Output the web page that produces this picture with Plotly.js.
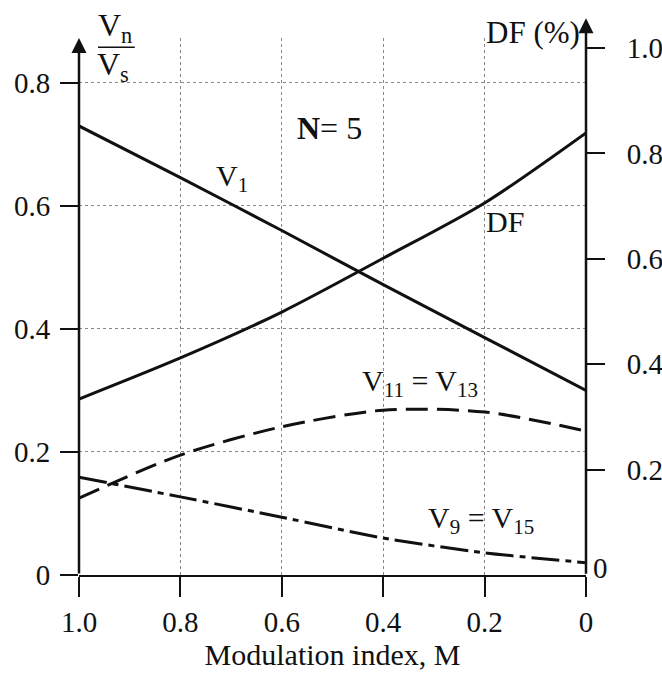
<!DOCTYPE html>
<html>
<head>
<meta charset="utf-8">
<script src="https://cdn.plot.ly/plotly-3.0.1.min.js"></script>
<style>html,body{margin:0;padding:0;background:#fff;}#chart{width:662px;height:673px;}</style>
</head>
<body>
<div id="chart"></div>
<script>
// Modulation index M (x axis, reversed: 1.0 on the left, 0 on the right)
const M = [1.0, 0.8, 0.6, 0.4, 0.2, 0.0];
// Harmonic amplitudes Vn/Vs (left axis)
const V1 = [0.730, 0.646, 0.560, 0.472, 0.386, 0.300];
const V11 = [0.125, 0.195, 0.241, 0.268, 0.265, 0.234];
const V9 = [0.159, 0.127, 0.094, 0.060, 0.036, 0.020];
// Distortion factor DF (%) (right axis)
const DF = [0.334, 0.412, 0.499, 0.601, 0.706, 0.839];

const xTicks = [1.0, 0.8, 0.6, 0.4, 0.2, 0.0];
const xTickText = ["1.0", "0.8", "0.6", "0.4", "0.2", "0"];
const yTicks = [0, 0.2, 0.4, 0.6, 0.8];
const yTickText = ["0", "0.2", "0.4", "0.6", "0.8"];
const y2Ticks = [0.2, 0.4, 0.6, 0.8, 1.0];
const y2TickText = ["0.2", "0.4", "0.6", "0.8", "1.0"];

const FONT = "Liberation Serif, Times New Roman, serif";
const INK = "#111";

const traces = [
  {x: M, y: V1, mode: "lines", line: {color: INK, width: 3, shape: "spline", smoothing: 0.6}, yaxis: "y", hoverinfo: "skip"},
  {x: M, y: DF, mode: "lines", line: {color: INK, width: 3, shape: "spline", smoothing: 0.8}, yaxis: "y2", hoverinfo: "skip"},
  {x: M, y: V11, mode: "lines", line: {color: INK, width: 3, shape: "spline", smoothing: 0.8, dash: "22px,9px"}, yaxis: "y", hoverinfo: "skip"},
  {x: M, y: V9, mode: "lines", line: {color: INK, width: 3, shape: "spline", smoothing: 0.6, dash: "28px,6px,6px,6px"}, yaxis: "y", hoverinfo: "skip"}
];

const tf = {family: FONT, size: 29, color: INK};
const lf = {family: FONT, size: 30, color: INK};

function lbl(x, y, text, extra) {
  return Object.assign({x: x, y: y, xref: "x", yref: "y", text: text, showarrow: false,
    xanchor: "center", yanchor: "middle", font: lf}, extra || {});
}

const layout = {
  width: 662, height: 673,
  margin: {l: 79, r: 76, t: 38, b: 98},
  paper_bgcolor: "#fff", plot_bgcolor: "#fff",
  showlegend: false,
  font: {family: FONT, color: INK},
  xaxis: {
    range: [1.0, 0.0], tickvals: xTicks, ticktext: xTickText,
    ticks: "outside", ticklen: 20, tickwidth: 2, tickcolor: INK,
    showline: true, linewidth: 2, linecolor: INK,
    showgrid: true, gridcolor: "#888", griddash: "dot", gridwidth: 1,
    zeroline: false, tickfont: tf,
    title: {text: "Modulation index, M", font: {family: FONT, size: 30, color: INK}, standoff: 6}
  },
  yaxis: {
    range: [0, 0.873], tickvals: yTicks, ticktext: yTickText,
    ticks: "outside", ticklen: 18, tickwidth: 2, tickcolor: INK,
    showline: false, showgrid: true, gridcolor: "#888", griddash: "dot", gridwidth: 1,
    zeroline: false, tickfont: tf, ticklabelstandoff: 4
  },
  yaxis2: {
    overlaying: "y", side: "right",
    range: [0, 1.019], tickvals: y2Ticks, ticktext: y2TickText,
    ticks: "outside", ticklen: 18, tickwidth: 2, tickcolor: INK,
    showline: false, showgrid: false, zeroline: false, tickfont: tf, ticklabelstandoff: 16
  },
  annotations: [
    // axis lines with arrows
    {xref: "paper", yref: "paper", x: 0, y: 1.0, ax: 0, ay: 537, text: "", showarrow: true, arrowhead: 2, arrowsize: 1.2, arrowwidth: 2.5, arrowcolor: INK},
    {xref: "paper", yref: "paper", x: 1, y: 1.037, ax: 0, ay: 557, text: "", showarrow: true, arrowhead: 2, arrowsize: 1.2, arrowwidth: 2.5, arrowcolor: INK},
    // axis titles
    {xref: "paper", yref: "paper", x: 0.071, y: 1.019, xanchor: "center", yanchor: "middle", text: "V<sub>n</sub>", showarrow: false, font: {family: FONT, size: 32, color: INK}},
    {xref: "paper", yref: "paper", x: 0.067, y: 0.946, xanchor: "center", yanchor: "middle", text: "V<sub>s</sub>", showarrow: false, font: {family: FONT, size: 32, color: INK}},
    {xref: "paper", yref: "paper", x: 0.895, y: 1.011, xanchor: "center", yanchor: "middle", text: "DF (%)", showarrow: false, font: {family: FONT, size: 31, color: INK}},
    {xref: "paper", yref: "y2", x: 1, y: 0.013, xanchor: "left", yanchor: "middle", xshift: 5, text: "0", showarrow: false, font: tf},
    // curve labels
    lbl(0.505, 0.727, "<b>N</b>= 5", {font: {family: FONT, size: 32, color: INK}}),
    lbl(0.698, 0.645, "V<sub>1</sub>"),
    lbl(0.16, 0.574, "DF"),
    lbl(0.327, 0.312, "V<sub>11</sub> = V<sub>13</sub>"),
    lbl(0.207, 0.089, "V<sub>9</sub> = V<sub>15</sub>")
  ],
  shapes: [
    {type: "line", xref: "paper", yref: "paper", x0: 0.0375, x1: 0.110, y0: 0.983, y1: 0.983, line: {color: INK, width: 1.5}}
  ]
};

Plotly.newPlot("chart", traces, layout, {staticPlot: true, displayModeBar: false});
</script>
</body>
</html>
